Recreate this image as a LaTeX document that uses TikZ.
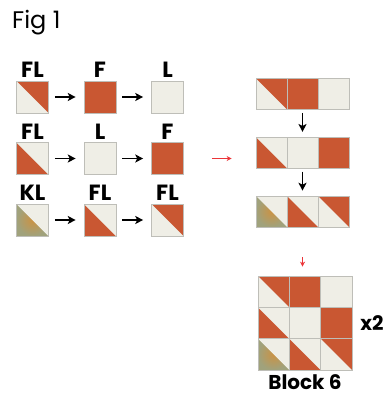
\documentclass[tikz,border=0pt]{standalone}
\usepackage{fontspec}
\setmainfont{Poppins}
\usepackage{tikz}
\usetikzlibrary{positioning,arrows.meta}

\definecolor{rust}{RGB}{201,87,50}
\definecolor{cream}{RGB}{239,238,230}
\definecolor{sage}{RGB}{160,162,124}
\definecolor{seam}{RGB}{190,190,184}
\definecolor{pointer}{RGB}{235,52,56}

\begin{document}
\begin{tikzpicture}[x=1pt,y=-1pt,>={Stealth[length=8pt,width=8pt,inset=2pt]},label distance=3pt]
			\tikzset{patch/.style 2 args={draw=seam,line width=0.6pt,minimum size=32pt,inner sep=0pt,
				path picture={
					\fill[#2] (path picture bounding box.north west) rectangle (path picture bounding box.south east);
					\fill[#1] (path picture bounding box.north west) -- (path picture bounding box.north east)
						-- (path picture bounding box.south east) -- cycle;}},
				fabric/.style={inner color=orange!45!sage, outer color=sage}}
			\tikzstyle{every label}=[font=\bfseries\fontsize{22}{26}\selectfont,inner sep=0pt]
			\tikzstyle{link}=[->,black,line width=1.5pt]
			\tikzstyle{pointer link}=[->,pointer,line width=1pt,>={Stealth[length=5pt,width=5pt,inset=1.5pt]}]
			\tikzstyle{annot}=[font=\bfseries\fontsize{20}{24}\selectfont,inner sep=0pt]
			
			\useasboundingbox (0,0) rectangle (390,396);
			
			% Fabric of each cell: row / column / upper colour / lower colour / label
			\def\cells{1/1/rust/cream/FL,1/2/rust/rust/F,1/3/cream/cream/L,
				2/1/cream/rust/FL,2/2/cream/cream/L,2/3/rust/rust/F,
				3/1/cream/fabric/KL,3/2/cream/rust/FL,3/3/rust/cream/FL}
			
			% Title
			\node[anchor=north west,inner sep=0pt,font=\fontsize{24}{28}\selectfont] (fig) at (12,10) {Fig 1};
			
			% Draw the single patches
			\foreach \r/\c/\up/\lo/\name in \cells
			\node[patch={\up}{\lo}, label=above:\name] (L-\r-\c) at ({32.5+67.5*(\c-1)},{97+61.5*(\r-1)}) {};
			
			% Draw the sewn rows
			\foreach \r/\c/\up/\lo/\name in \cells
			\node[patch={\up}{\lo}, minimum size=31pt] (S-\r-\c) at ({271.5+31*(\c-1)},{94+58.75*(\r-1)}) {};
			
			% Draw the finished block
			\foreach \r/\c/\up/\lo/\name in \cells
			\node[patch={\up}{\lo}, minimum size=31.3pt] (B-\r-\c) at ({273.65+31.3*(\c-1)},{291.65+31.3*(\r-1)}) {};
			
			% Connect the patches of each row
			\foreach \r in {1,2,3}
			\foreach \c/\n in {1/2,2/3}
			\draw[link,shorten <=6pt,shorten >=8pt] (L-\r-\c) -- (L-\r-\n);
			
			% Connect the sewn rows
			\foreach \r/\n in {1/2,2/3}
			\draw[link,shorten <=3pt,shorten >=5pt] (S-\r-2) -- (S-\n-2);
			
			% Red pointers
			\draw[pointer link,shorten <=28pt,shorten >=24pt] (L-2-3.east) -- (L-2-3.east -| S-2-1.west);
			\draw[pointer link,shorten <=30pt,shorten >=9pt] (S-3-2.south) -- (S-3-2.south |- B-1-2.north);
			
			% Annotate the block
			\node[annot,right=8pt of B-2-3] (times) {x2};
			\node[annot,below=4pt of B-3-2] (block) {Block 6};
		\end{tikzpicture}
\end{document}
